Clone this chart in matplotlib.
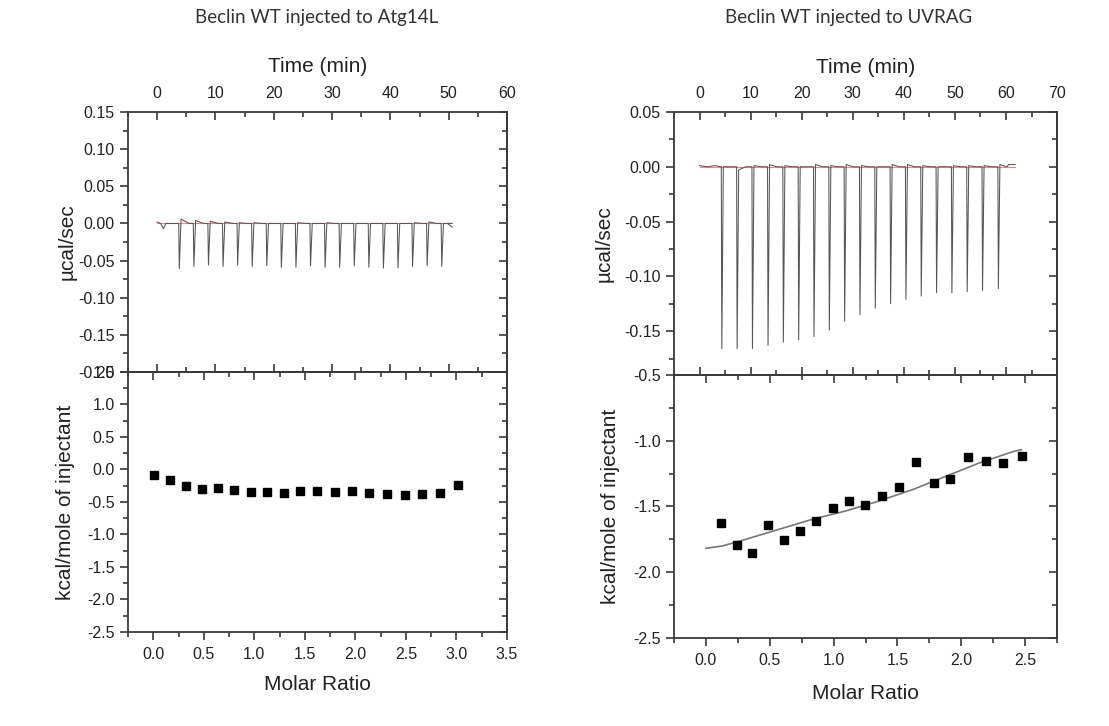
"""Two ITC panels: raw thermogram on top, integrated heats below."""

import matplotlib

matplotlib.use("Agg")
import matplotlib.pyplot as plt
from matplotlib.ticker import MultipleLocator, FormatStrFormatter

plt.rcParams["font.family"] = ["Liberation Sans", "DejaVu Sans"]
plt.rcParams["axes.unicode_minus"] = False

# ---------- data ----------
# Atg14L thermogram: injection times (min), peak depths (ucal/s), overshoot after peak
atg_inj_times = [3.7, 6.2, 8.7, 11.2, 13.7, 16.2, 18.7, 21.2, 23.7, 26.2,
                 28.7, 31.2, 33.7, 36.2, 38.7, 41.2, 43.7, 46.2, 48.7]
atg_peak_depth = [-0.061, -0.058, -0.056, -0.058, -0.056, -0.058, -0.057, -0.059, -0.059, -0.057,
                  -0.059, -0.059, -0.057, -0.059, -0.060, -0.060, -0.058, -0.057, -0.058]
atg_overshoot = [0.006, 0.004, 0.003, 0.002, 0.001, 0.001, 0.0, 0.0, 0.001, 0.0,
                 0.001, 0.0, 0.0, 0.0, 0.0, 0.0, 0.001, 0.002, 0.0]
atg_pre = [(0.0, 0.002), (0.6, 0.0), (1.1, -0.007), (1.5, 0.0)]
atg_post = [(49.8, 0.0), (50.6, -0.005)]

# UVRAG thermogram
uvr_inj_times = [4.25, 7.25, 10.25, 13.3, 16.3, 19.3, 22.3, 25.3, 28.3, 31.3,
                 34.3, 37.3, 40.3, 43.3, 46.3, 49.3, 52.3, 55.3, 58.4]
uvr_peak_depth = [-0.166, -0.166, -0.166, -0.163, -0.160, -0.158, -0.155, -0.149, -0.141, -0.135,
                  -0.129, -0.125, -0.121, -0.118, -0.115, -0.115, -0.114, -0.113, -0.111]
uvr_overshoot = [0.0, -0.003, 0.001, 0.002, 0.001, 0.0, 0.002, 0.001, 0.002, 0.001,
                 0.0, 0.002, 0.002, 0.001, 0.0, 0.001, 0.001, 0.001, 0.002]
uvr_pre = [(0.0, 0.001), (1.5, 0.0), (3.0, 0.001)]
uvr_post = [(60.5, 0.002), (61.8, 0.002)]

# integrated heats
atg_ratio = [0.01, 0.168, 0.326, 0.485, 0.643, 0.801, 0.963, 1.124, 1.296, 1.454,
             1.622, 1.794, 1.962, 2.136, 2.311, 2.486, 2.658, 2.832, 3.014]
atg_heat = [-0.087, -0.168, -0.255, -0.296, -0.291, -0.322, -0.342, -0.352, -0.362, -0.337,
            -0.337, -0.342, -0.327, -0.362, -0.378, -0.388, -0.373, -0.362, -0.245]

uvr_ratio = [0.121, 0.242, 0.361, 0.487, 0.613, 0.735, 0.864, 0.993, 1.119, 1.248,
             1.380, 1.514, 1.648, 1.783, 1.914, 2.051, 2.193, 2.330, 2.472]
uvr_heat = [-1.626, -1.795, -1.851, -1.644, -1.752, -1.684, -1.614, -1.510, -1.455, -1.485,
            -1.417, -1.351, -1.162, -1.320, -1.288, -1.121, -1.154, -1.167, -1.116]
uvr_fit_x = [0.0, 0.13, 0.31, 0.57, 0.83, 1.09, 1.35, 1.62, 1.88, 2.14, 2.41, 2.47]
uvr_fit_y = [-1.818, -1.80, -1.75, -1.674, -1.598, -1.535, -1.46, -1.371, -1.27, -1.169, -1.081, -1.068]

titles = ["Beclin WT injected to Atg14L", "Beclin WT injected to UVRAG"]
# -----------------------------------------------

spine_colour = "#3a3a3a"
text_colour = "#222222"


def thermogram(pre, times, depths, overshoot, post):
    """Join the read-off peaks into one trace."""
    t = [p[0] for p in pre]
    y = [p[1] for p in pre]
    for ti, d, o in zip(times, depths, overshoot):
        t += [ti, ti + 0.1, ti + 0.4, ti + 0.9, ti + 1.8]
        y += [0.0, d, o, o * 0.6, 0.0]
    t += [p[0] for p in post]
    y += [p[1] for p in post]
    return t, y


def style_axes(ax, xmaj, xmin, ymaj, ymin, xfmt, yfmt, top_panel):
    for sp in ax.spines.values():
        sp.set_color(spine_colour)
        sp.set_linewidth(1.3)
    ax.xaxis.set_major_locator(MultipleLocator(xmaj))
    ax.xaxis.set_minor_locator(MultipleLocator(xmin))
    ax.yaxis.set_major_locator(MultipleLocator(ymaj))
    ax.yaxis.set_minor_locator(MultipleLocator(ymin))
    ax.xaxis.set_major_formatter(FormatStrFormatter(xfmt))
    ax.yaxis.set_major_formatter(FormatStrFormatter(yfmt))
    ax.tick_params(axis="y", which="both", direction="out", colors=spine_colour,
                   labelcolor=text_colour, labelsize=11.5, pad=3.5, width=1.2)
    ax.tick_params(axis="y", which="major", length=6)
    ax.tick_params(axis="y", which="minor", length=3.5)
    if top_panel:
        ax.tick_params(axis="x", which="both", direction="in", top=True, bottom=True,
                       labeltop=True, labelbottom=False, colors=spine_colour,
                       labelcolor=text_colour, labelsize=11.5, pad=8, width=1.2)
    else:
        ax.tick_params(axis="x", which="both", direction="out", colors=spine_colour,
                       labelcolor=text_colour, labelsize=11.5, pad=5, width=1.2)
        sec = ax.secondary_xaxis("top")
        sec.xaxis.set_major_locator(MultipleLocator(xmaj))
        sec.xaxis.set_minor_locator(MultipleLocator(xmin))
        sec.tick_params(axis="x", which="both", direction="in", labeltop=False,
                        colors=spine_colour, width=1.2)
        sec.tick_params(axis="x", which="major", length=6)
        sec.tick_params(axis="x", which="minor", length=3.5)
        sec.spines["top"].set_color(spine_colour)
        sec.spines["top"].set_linewidth(1.3)
    ax.tick_params(axis="x", which="major", length=6)
    ax.tick_params(axis="x", which="minor", length=3.5)
    secy = ax.secondary_yaxis("right")
    secy.yaxis.set_major_locator(MultipleLocator(ymaj))
    secy.yaxis.set_minor_locator(MultipleLocator(ymin))
    secy.tick_params(axis="y", which="both", direction="in", labelright=False,
                     colors=spine_colour, width=1.2)
    secy.tick_params(axis="y", which="major", length=6)
    secy.tick_params(axis="y", which="minor", length=3.5)
    secy.spines["right"].set_color(spine_colour)
    secy.spines["right"].set_linewidth(1.3)


fig = plt.figure(figsize=(11.09, 7.26), dpi=100)
fig.patch.set_facecolor("white")

# left column
ax_lt = fig.add_axes([0.1154, 0.4876, 0.3418, 0.3581])
ax_lb = fig.add_axes([0.1154, 0.1295, 0.3418, 0.3581])
# right column
ax_rt = fig.add_axes([0.6078, 0.4835, 0.3454, 0.3623])
ax_rb = fig.add_axes([0.6078, 0.1212, 0.3454, 0.3623])

# raw thermograms
t, y = thermogram(atg_pre, atg_inj_times, atg_peak_depth, atg_overshoot, atg_post)
ax_lt.plot([0, 50.6], [0, 0], color="#d98c8c", lw=0.8, zorder=1)
ax_lt.plot(t, y, color="#555555", lw=0.75, zorder=2)
ax_lt.set_xlim(-5, 60)
ax_lt.set_ylim(-0.20, 0.15)

t, y = thermogram(uvr_pre, uvr_inj_times, uvr_peak_depth, uvr_overshoot, uvr_post)
ax_rt.plot([0, 61.8], [0, 0], color="#d98c8c", lw=0.8, zorder=1)
ax_rt.plot(t, y, color="#555555", lw=0.75, zorder=2)
ax_rt.set_xlim(-5, 70)
ax_rt.set_ylim(-0.19, 0.05)

# integrated heats
ax_lb.plot(atg_ratio, atg_heat, "s", color="black", ms=5.6)
ax_lb.set_xlim(-0.25, 3.5)
ax_lb.set_ylim(-2.5, 1.5)

ax_rb.plot(uvr_fit_x, uvr_fit_y, color="#777777", lw=1.2)
ax_rb.plot(uvr_ratio, uvr_heat, "s", color="black", ms=6.4)
ax_rb.set_xlim(-0.25, 2.75)
ax_rb.set_ylim(-2.5, -0.5)

style_axes(ax_lt, 10, 5, 0.05, 0.025, "%d", "%.2f", True)
style_axes(ax_rt, 10, 5, 0.05, 0.025, "%d", "%.2f", True)
style_axes(ax_lb, 0.5, 0.25, 0.5, 0.25, "%.1f", "%.1f", False)
style_axes(ax_rb, 0.5, 0.25, 0.5, 0.25, "%.1f", "%.1f", False)

label_kw = dict(fontsize=15, color=text_colour)
for ax_t, ax_b, xoff_t, xoff_b in [(ax_lt, ax_lb, -0.135, -0.14), (ax_rt, ax_rb, -0.159, -0.141)]:
    ax_t.set_xlabel("Time (min)", **label_kw)
    ax_t.xaxis.set_label_position("top")
    ax_t.set_ylabel("µcal/sec", **label_kw)
    ax_t.yaxis.set_label_coords(xoff_t, 0.5)
    ax_b.set_xlabel("Molar Ratio", **label_kw)
    ax_b.set_ylabel("kcal/mole of injectant", **label_kw)
    ax_b.yaxis.set_label_coords(xoff_b, 0.5)

ax_lt.xaxis.set_label_coords(0.5, 1.154)
ax_rt.xaxis.set_label_coords(0.5, 1.148)
ax_lb.xaxis.set_label_coords(0.5, -0.165)
ax_rb.xaxis.set_label_coords(0.5, -0.175)

fig.text(317 / 1109, 1 - 18 / 726, titles[0], ha="center", va="center",
         fontsize=13.5, color="#333333", family=["Lato", "DejaVu Sans"])
fig.text(849 / 1109, 1 - 18 / 726, titles[1], ha="center", va="center",
         fontsize=13.5, color="#333333", family=["Lato", "DejaVu Sans"])

fig.savefig("out.png", dpi=100, facecolor="white")
